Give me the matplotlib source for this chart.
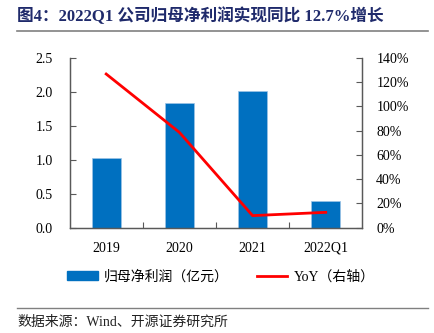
import matplotlib.pyplot as plt
from matplotlib.lines import Line2D
from matplotlib.patches import Patch

plt.rcParams['font.family'] = ['Liberation Serif', 'Noto Sans CJK SC']

# data
categories = ["2019", "2020", "2021", "2022Q1"]
profit = [1.03, 1.83, 2.01, 0.39]          # 归母净利润（亿元）
yoy = [126.5, 78.5, 10.0, 12.7]            # YoY %
left_ticks = [0.0, 0.5, 1.0, 1.5, 2.0, 2.5]
right_ticks = [0, 20, 40, 60, 80, 100, 120, 140]

blue = "#0070C0"
red = "#FF0000"
spine_c = "#595959"

fig = plt.figure(figsize=(4.35, 3.33), dpi=100)
ax = fig.add_axes([0.16, 0.316, 0.673, 0.511])
x = list(range(len(categories)))
ax.bar(x, profit, width=0.4, color=blue, edgecolor="#9DC3E6", linewidth=0.5, zorder=2)
ax.set_xlim(-0.5, len(categories) - 0.5)
ax.set_ylim(0, 2.5)
ax.set_yticks(left_ticks)
ax.set_yticklabels([f"{v:.1f}" for v in left_ticks], fontsize=10)
ax.set_xticks([i + 0.5 for i in x[:-1]])
ax.set_xticklabels([])
ax.set_xticks(x, minor=True)
ax.set_xticklabels(categories, minor=True, fontsize=10)
ax.tick_params(axis="x", which="minor", length=0, pad=10)
ax.tick_params(axis="x", which="major", direction="in", length=4, color=spine_c)
ax.tick_params(axis="y", direction="in", length=4, color=spine_c, pad=12)

ax2 = ax.twinx()
ax2.plot(x, yoy, color=red, linewidth=2, zorder=3)
ax2.set_ylim(0, 140)
ax2.set_yticks(right_ticks)
ax2.set_yticklabels([f"{v}%" for v in right_ticks], fontsize=10)
ax2.tick_params(axis="y", direction="in", length=4, color=spine_c, pad=10)

for a in (ax, ax2):
    a.spines["top"].set_visible(False)
    for s in ("left", "right", "bottom"):
        a.spines[s].set_color(spine_c)
        a.spines[s].set_linewidth(0.9)

handles = [Patch(facecolor=blue, edgecolor=blue),
           Line2D([0], [0], color=red, linewidth=2)]
fig.legend(handles, ["归母净利润（亿元）", "YoY（右轴）"], loc="center",
           bbox_to_anchor=(0.508, 0.168), ncol=2, frameon=False, fontsize=10,
           handlelength=2.2, handleheight=0.6, columnspacing=2.0, handletextpad=0.45)

# title and source
fig.text(0.04, 0.952, "图4：2022Q1 公司归母净利润实现同比 12.7%增长", fontsize=12,
         fontweight="bold", color="#1F2A6B", va="center")
fig.add_artist(Line2D([0.04, 0.984], [0.907, 0.907], color="#808080", linewidth=1.2))
fig.add_artist(Line2D([0.04, 0.984], [0.075, 0.075], color="#808080", linewidth=1.0))
fig.text(0.04, 0.032, "数据来源：Wind、开源证券研究所", fontsize=10, color="#222222", va="center")

fig.savefig("out.png", dpi=100)
